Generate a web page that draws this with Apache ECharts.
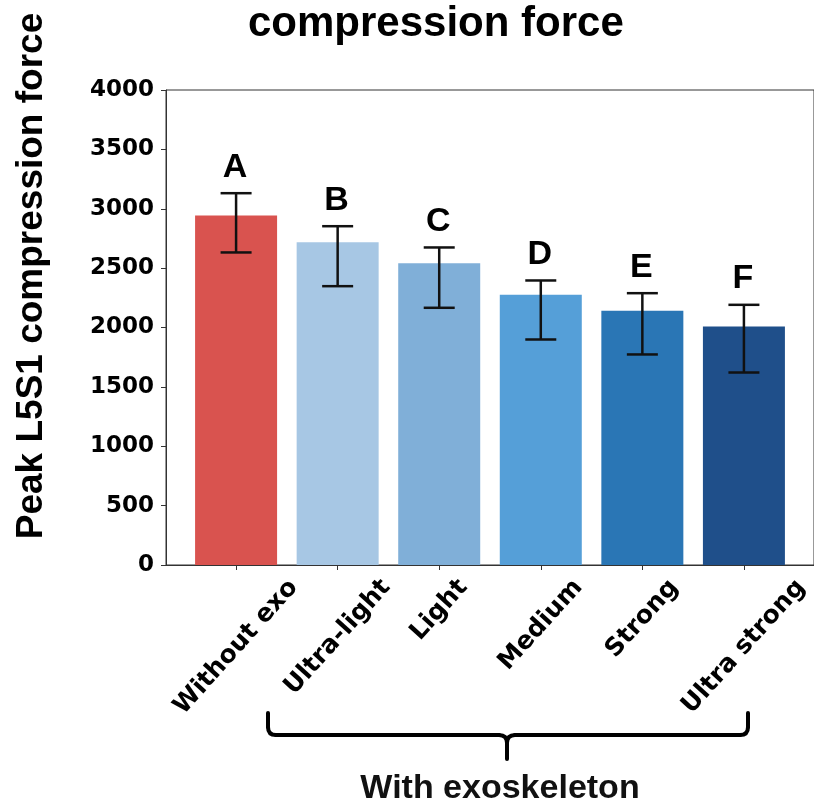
<!DOCTYPE html>
<html>
<head>
<meta charset="utf-8">
<title>compression force</title>
<script src="https://cdn.jsdelivr.net/npm/echarts@6/dist/echarts.min.js"></script>
<style>
	html, body { margin: 0; padding: 0; background: #fff; }
	#chart { width: 814px; height: 804px; }
</style>
</head>
<body>
<div id="chart"></div>
<script>
var categories = ['Without exo', 'Ultra-light', 'Light', 'Medium', 'Strong', 'Ultra strong'];
var letters = ['A', 'B', 'C', 'D', 'E', 'F'];
var means = [2943, 2718, 2541, 2275, 2141, 2008];
var errLow = [2632, 2348, 2166, 1899, 1773, 1621];
var errHigh = [3131, 2853, 2674, 2396, 2289, 2191];
var yTicks = [0, 500, 1000, 1500, 2000, 2500, 3000, 3500, 4000];
var barColors = ['#d9534f', '#a7c7e4', '#80afd8', '#559fd8', '#2a76b5', '#1f4f8a'];

var labelSize = 25;
var labelAngle = 48 * Math.PI / 180;
var tickFont = 'bold ' + labelSize + 'px "DejaVu Sans"';
var measureCtx = document.createElement('canvas').getContext('2d');
measureCtx.font = tickFont;

var chart = echarts.init(document.getElementById('chart'));

// brace pieces
var braceStyle = { fill: 'none', stroke: '#000', lineWidth: 4, lineCap: 'round' };
function bLine(x1, y1, x2, y2) {
	return { type: 'line', shape: { x1: x1, y1: y1, x2: x2, y2: y2 }, style: braceStyle };
}
function bCurve(x1, y1, cx, cy, x2, y2) {
	return { type: 'bezierCurve', shape: { x1: x1, y1: y1, cpx1: cx, cpy1: cy, x2: x2, y2: y2 }, style: braceStyle };
}

var option = {
	animation: false,
	backgroundColor: '#fff',
	title: {
		text: 'compression force',
		left: 248,
		top: 3,
		padding: 0,
		textStyle: {
			fontFamily: 'Liberation Sans',
			fontWeight: 'bold',
			fontSize: 42,
			color: '#000'
		}
	},
	grid: {
		left: 166,
		top: 90,
		width: 653,
		height: 475,
		show: true,
		borderColor: '#333',
		borderWidth: 1,
		backgroundColor: 'transparent'
	},
	xAxis: {
		type: 'value',
		min: -0.69,
		max: 5.69,
		splitLine: { show: false },
		axisLine: { show: true, onZero: false, lineStyle: { color: '#333', width: 1 } },
		axisTick: {
			show: true,
			length: 5,
			customValues: [0, 1, 2, 3, 4, 5],
			lineStyle: { color: '#333' }
		},
		axisLabel: { show: false }
	},
	yAxis: {
		type: 'value',
		min: 0,
		max: 4000,
		interval: 500,
		splitLine: { show: false },
		axisLine: { show: true, onZero: false, lineStyle: { color: '#333', width: 1 } },
		axisTick: { show: true, length: 5, lineStyle: { color: '#333' } },
		axisLabel: {
			margin: 12,
			color: '#000',
			fontFamily: 'DejaVu Sans',
			fontWeight: 'bold',
			fontSize: 23,
			customValues: yTicks,
			formatter: function (v) {
				return String(v);
			}
		}
	},
	graphic: [
		{
			type: 'text',
			x: 32,
			y: 276,
			rotation: Math.PI / 2,
			style: {
				text: 'Peak L5S1 compression force',
				font: 'bold 37px "Liberation Sans"',
				fill: '#000',
				align: 'center',
				verticalAlign: 'middle'
			}
		},
		{
			type: 'group',
			children: [
				bLine(268, 713, 268, 727),
				bCurve(268, 727, 268, 735, 276, 735),
				bLine(276, 735, 499, 735),
				bCurve(499, 735, 507, 735, 507, 743),
				bLine(507, 743, 507, 759),
				bCurve(515, 735, 507, 735, 507, 743),
				bLine(515, 735, 740, 735),
				bCurve(740, 735, 748, 735, 748, 727),
				bLine(748, 727, 748, 713)
			]
		},
		{
			type: 'text',
			x: 500,
			y: 789,
			style: {
				text: 'With exoskeleton',
				font: 'bold 34px "Liberation Sans"',
				fill: '#111',
				align: 'center',
				verticalAlign: 'middle'
			}
		}
	],
	series: [
		{
			type: 'bar',
			barWidth: 82,
			z: 2,
			data: means.map(function (v, i) {
				return { value: [i, v], itemStyle: { color: barColors[i] } };
			})
		},
		{
			type: 'custom',
			z: 5,
			data: categories.map(function (c, i) {
				return [i, errLow[i], errHigh[i]];
			}),
			encode: { x: 0, y: [1, 2] },
			renderItem: function (params, api) {
				var i = api.value(0);
				var lo = api.coord([i, api.value(1)]);
				var hi = api.coord([i, api.value(2)]);
				var half = 15.5;
				var ls = { stroke: '#111', lineWidth: 2.5 };
				return {
					type: 'group',
					children: [
						{ type: 'line', shape: { x1: hi[0], y1: hi[1], x2: lo[0], y2: lo[1] }, style: ls },
						{ type: 'line', shape: { x1: hi[0] - half, y1: hi[1], x2: hi[0] + half, y2: hi[1] }, style: ls },
						{ type: 'line', shape: { x1: lo[0] - half, y1: lo[1], x2: lo[0] + half, y2: lo[1] }, style: ls },
						{
							type: 'text',
							x: hi[0] - 1,
							y: hi[1] - 9,
							style: {
								text: letters[params.dataIndex],
								font: 'bold 34px "Liberation Sans"',
								fill: '#000',
								align: 'center',
								verticalAlign: 'bottom'
							}
						}
					]
				};
			}
		},
		{
			// rotated category labels, bbox centred under each tick like matplotlib
			type: 'custom',
			data: categories.map(function (c, i) {
				return [i, 0];
			}),
			encode: { x: 0, y: 1 },
			renderItem: function (params, api) {
				var p = api.coord([api.value(0), 0]);
				var text = categories[params.dataIndex];
				var L = measureCtx.measureText(text).width;
				var h = labelSize;
				var pad = 10;
				var boxH = L * Math.sin(labelAngle) + h * Math.cos(labelAngle);
				return {
					type: 'text',
					x: p[0],
					y: p[1] + pad + boxH / 2,
					rotation: labelAngle,
					style: {
						text: text,
						font: tickFont,
						fill: '#000',
						align: 'center',
						verticalAlign: 'middle'
					}
				};
			}
		}
	]
};

chart.setOption(option);
</script>
</body>
</html>
